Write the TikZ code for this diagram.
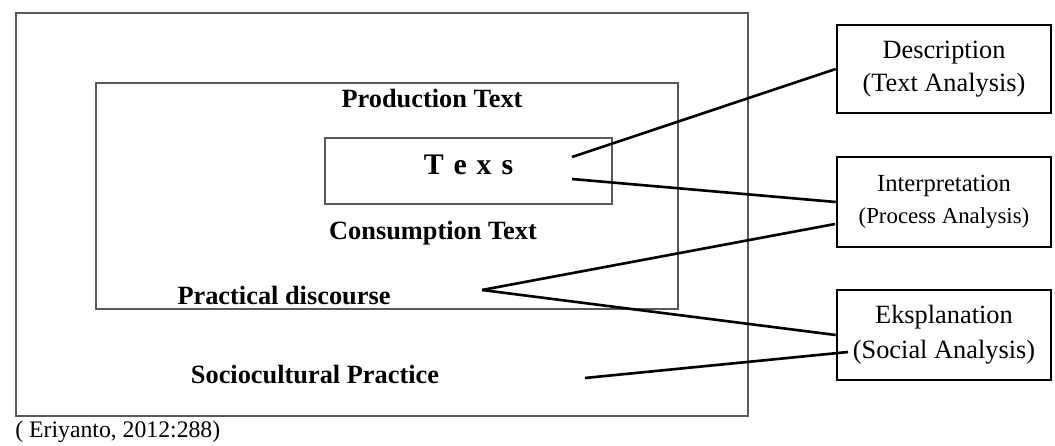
\documentclass[tikz,border=0pt]{standalone}
\usepackage{fontspec}
\setmainfont{Liberation Serif}
\usetikzlibrary{positioning}

\begin{document}
\begin{tikzpicture}[x=0.02cm, y=-0.02cm,
    frame/.style={draw=black!65, line width=1pt, inner sep=0pt},
    level/.style={font=\fontsize{15}{17}\selectfont\bfseries},
    result/.style={draw, line width=1.5pt, minimum width=4.28cm, align=center, inner sep=2pt},
    link/.style={line width=1.5pt}]
    \useasboundingbox (0,0) rectangle (1055,446);

    \node[frame, minimum width=14.64cm, minimum height=8.06cm] (outer) at (382,214.5) {};
    \node[frame, minimum width=11.64cm, minimum height=4.52cm] (inner) at (387,196) {};
    \node[frame, minimum width=5.74cm, minimum height=1.32cm] (texsbox) at (468.5,171) {};

    \node[level] (production) at (432,99) {Production Text};
    \node[font={\fontsize{17}{19}\selectfont\bfseries\spaceskip=0.33em\relax}] (texs) at (468.5,165) {T e x s};
    \node[level] (consumption) at (433,233) {Consumption Text};
    \node[level] (practical) at (284,296) {Practical discourse};
    \node[level] (socio) at (315,375) {Sociocultural Practice};
    \node[font=\fontsize{13.5}{15}\selectfont, anchor=west, inner sep=0pt] (source) at (15,432) {( Eriyanto, 2012:288)};

    \node[result, minimum height=1.76cm, font=\fontsize{15}{19}\selectfont] (description) at (944,69)
        {Description\\(Text Analysis)};
    \node[result, minimum height=1.8cm, font=\fontsize{14}{18}\selectfont] (interpretation) at (944,202)
        {Interpretation\\{\fontsize{13}{16}\selectfont(Process Analysis)}};
    \node[result, minimum height=1.8cm, font=\fontsize{15}{20}\selectfont] (explanation) at (944,335)
        {Eksplanation\\(Social Analysis)};

    % line ends
    \coordinate (t1) at (572,157);
    \coordinate (t2) at (572,179);
    \coordinate (pd) at (482,290);
    \coordinate (sp) at (585,378);
    \coordinate (ip) at (835,224);
    \coordinate (ep) at (848,352);

    \draw[link] (t1) -- (description.west);
    \draw[link] (t2) -- (interpretation.west);
    \draw[link] (pd) -- (ip);
    \draw[link] (pd) -- (explanation.west);
    \draw[link] (sp) -- (ep);
\end{tikzpicture}
\end{document}
